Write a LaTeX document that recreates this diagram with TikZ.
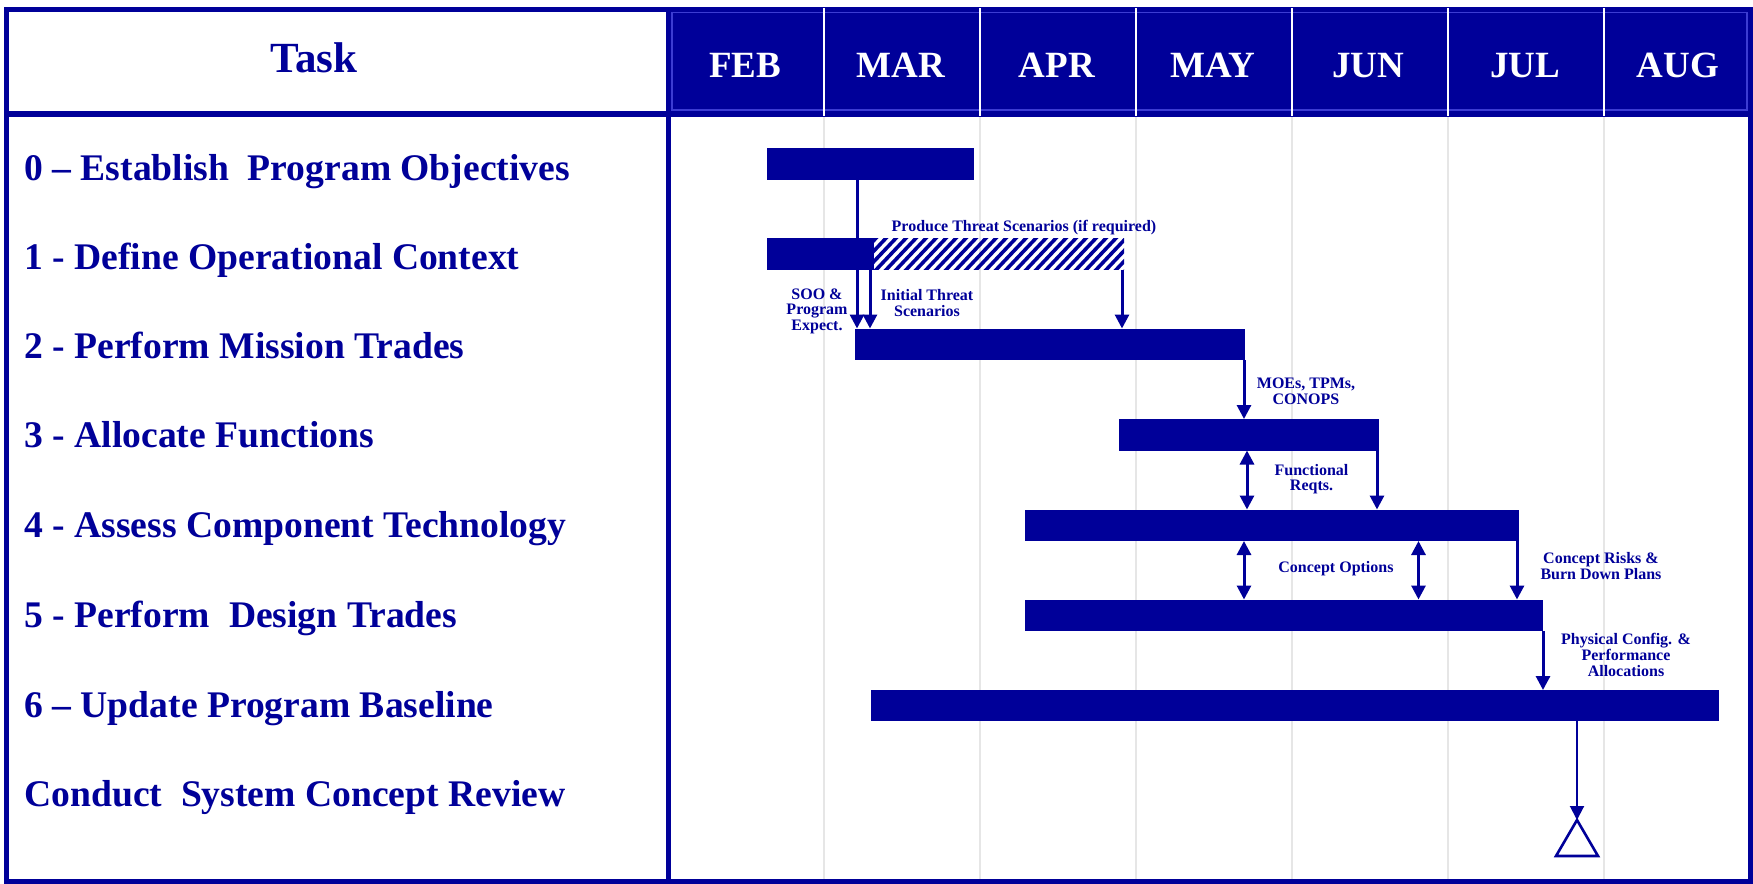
\documentclass[tikz,border=0pt]{standalone}
\usepackage{fontspec}
\setmainfont{Liberation Serif}
\usetikzlibrary{arrows.meta,fit}
\definecolor{dblue}{RGB}{0,0,153}
\definecolor{lblue}{RGB}{60,60,210}
\definecolor{gridc}{RGB}{230,230,230}
\begin{document}
\begin{tikzpicture}[x=0.5pt,y=-0.5pt,
 bar/.style={fill=dblue, draw=none, inner sep=0pt, outer sep=0pt},
 arr/.style={draw=dblue, line width=1.5pt, -{Triangle[width=7pt,length=7pt]}},
 darr/.style={draw=dblue, line width=1.5pt, {Triangle[width=7pt,length=7pt]}-{Triangle[width=7pt,length=7pt]}},
 tasklbl/.style={anchor=base west, inner sep=0pt, text=dblue, font=\fontsize{18.8pt}{22pt}\selectfont\bfseries},
 month/.style={anchor=base, inner sep=0pt, text=white, font=\fontsize{18.5pt}{22pt}\selectfont\bfseries},
 note/.style={inner sep=0pt, text=dblue, align=center, font=\fontsize{8pt}{7.8pt}\selectfont\bfseries}]

\useasboundingbox (0,0) rectangle (1753,884);
\fill[white] (0,0) rectangle (1753,884);

% grid lines in chart body
\foreach \x in {824,980,1136,1292,1448,1604}
  \draw[gridc, line width=1pt] (\x,117) -- (\x,879);

% header band
\fill[dblue] (668,8) rectangle (1750,114);
\draw[lblue, line width=1pt] (672,12) rectangle (1747,110);

% frame
\draw[dblue, line width=2.5pt] (6,9) rectangle (1750,881.5);
\draw[dblue, line width=3pt] (6,113.5) -- (1750,113.5);
\draw[dblue, line width=2.5pt] (668,9) -- (668,881.5);

% month separators in header
\foreach \x in {824,980,1136,1292,1448,1604}
  \draw[white, line width=0.8pt] (\x,8) -- (\x,116);

% header texts
\node[anchor=base, inner sep=0pt, text=dblue, font=\fontsize{21.5pt}{25pt}\selectfont\bfseries] (task) at (314,72) {Task};
\node[month] (feb) at (745,77) {FEB};
\node[month] (mar) at (901,77) {MAR};
\node[month] (apr) at (1057,77) {APR};
\node[month] (may) at (1213,77) {MAY};
\node[month] (jun) at (1368,77) {JUN};
\node[month] (jul) at (1525,77) {JUL};
\node[month] (aug) at (1678,77) {AUG};

% task labels
\node[tasklbl] (t0) at (24,180) {0 – Establish~ Program Objectives};
\node[tasklbl] (t1) at (24,269) {1 - Define Operational Context};
\node[tasklbl] (t2) at (24,358) {2 - Perform Mission Trades};
\node[tasklbl] (t3) at (24,447) {3 - Allocate Functions};
\node[tasklbl] (t4) at (24,537) {4 - Assess Component Technology};
\node[tasklbl] (t5) at (24,627) {5 - Perform~ Design Trades};
\node[tasklbl] (t6) at (24,717) {6 – Update Program Baseline};
\node[tasklbl] (t7) at (24,806) {Conduct~ System Concept Review};

% bars
\node[bar, fit={(767,148) (974,180)}] (b0) {};
\node[bar, fit={(767,238) (874,269.5)}] (b1) {};
\node[inner sep=0pt, outer sep=0pt, fit={(874,238) (1124,269.5)}] (b1h) {};
\node[bar, fit={(855,328.5) (1245,360)}] (b2) {};
\node[bar, fit={(1119,419) (1379,450.5)}] (b3) {};
\node[bar, fit={(1025,509.5) (1519,541)}] (b4) {};
\node[bar, fit={(1025,599.5) (1543,631)}] (b5) {};
\node[bar, fit={(871,690) (1719,721)}] (b6) {};

% hatched part
\begin{scope}
  \clip (b1h.south west) rectangle (b1h.north east);
  \foreach \i in {834,844,...,1134}
    \draw[dblue, line width=1.8pt] (\i,272) -- (\i+34,236);
\end{scope}

% milestone
\coordinate (ms) at (1577,820);
\draw[dblue, line width=1.3pt, line join=miter] (ms) -- (1598,856) -- (1556,856) -- cycle;

% connectors
\draw[arr] (857,0 |- b0.south) -- (857,0 |- b2.north);
\draw[arr] (870,0 |- b1.south) -- (870,0 |- b2.north);
\draw[arr] (1122,0 |- b1h.south) -- (1122,0 |- b2.north);
\draw[arr] (1244,0 |- b2.south) -- (1244,0 |- b3.north);
\draw[darr] (1247,0 |- b3.south) -- (1247,0 |- b4.north);
\draw[arr] (1377,0 |- b3.south) -- (1377,0 |- b4.north);
\draw[darr] (1244,0 |- b4.south) -- (1244,0 |- b5.north);
\draw[darr] (1418.5,0 |- b4.south) -- (1418.5,0 |- b5.north);
\draw[arr] (1517,0 |- b4.south) -- (1517,0 |- b5.north);
\draw[arr] (1543,0 |- b5.south) -- (1543,0 |- b6.north);
\draw[arr, line width=1pt] (1577,0 |- b6.south) -- (ms);

% notes
\node[note, anchor=base] (n1) at (1024,231) {Produce Threat Scenarios (if required)};
\node[note] (n2) at (817,311) {SOO \&\\Program\\Expect.};
\node[note] (n3) at (927,303) {Initial Threat\\Scenarios};
\node[note] (n4) at (1306,391) {MOEs, TPMs,\\CONOPS};
\node[note] (n5) at (1311.5,479) {Functional\\Reqts.};
\node[note] (n6) at (1336,569) {Concept Options};
\node[note] (n7) at (1601,566) {Concept Risks \&\\Burn Down Plans};
\node[note] (n8) at (1626,655) {Physical Config. \&\\Performance\\Allocations};
\end{tikzpicture}
\end{document}
